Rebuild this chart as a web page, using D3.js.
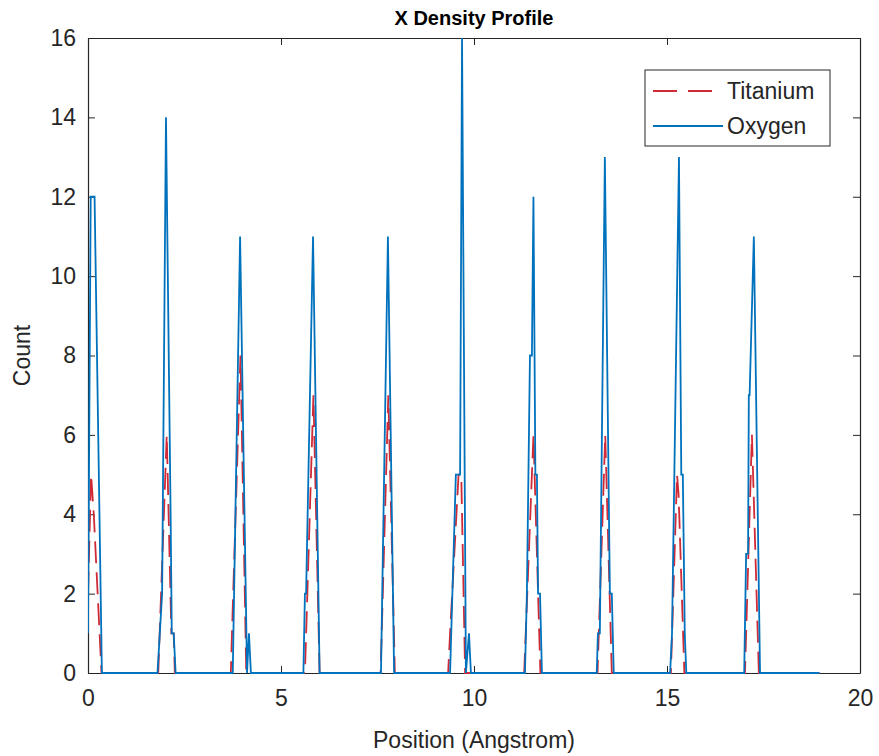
<!DOCTYPE html>
<html lang="en">
<head>
  <meta charset="UTF-8" />
  <title>X Density Profile</title>
  <style>
    html, body { margin: 0; padding: 0; background: #fff; }
    svg { display: block; font-family: "Liberation Sans", Arial, sans-serif; }
    .tick text { fill: #262626; font-size: 23px; }
    .tick line, .domain { stroke: #262626; }
  </style>
  <script src="https://d3js.org/d3.v7.min.js"></script>
</head>
<body>
  <svg id="chart" width="879" height="756"></svg>
  <script>
    // values: [position (Angstrom), count]
    const titanium = [
      [0, 2], [0.08, 5], [0.15, 4], [0.35, 0],
      [1.82, 0], [2.04, 6], [2.16, 1], [2.22, 1], [2.25, 0],
      [3.7, 0], [3.73, 1], [3.95, 8], [4.1, 0],
      [5.62, 0], [5.84, 7], [6.0, 0],
      [7.58, 0], [7.78, 7], [7.95, 0],
      [9.33, 0], [9.38, 1], [9.6, 5], [9.67, 5], [9.77, 0],
      [11.3, 0], [11.54, 6], [11.72, 0],
      [13.2, 0], [13.4, 6], [13.57, 0],
      [15.1, 0], [15.26, 5], [15.3, 4.5], [15.45, 0],
      [17.02, 0], [17.2, 6], [17.38, 0],
      [18.95, 0]
    ];
    const oxygen = [
      [0, 1], [0.07, 12], [0.17, 12], [0.36, 0],
      [1.8, 0], [1.92, 2], [2.02, 14], [2.14, 4], [2.17, 1], [2.22, 1], [2.27, 0],
      [3.75, 0], [3.94, 11], [4.12, 0], [4.17, 1], [4.22, 0],
      [5.58, 0], [5.62, 2], [5.65, 2], [5.83, 11], [6.0, 0],
      [7.59, 0], [7.77, 11], [7.93, 0],
      [9.38, 0], [9.53, 5], [9.64, 5], [9.69, 16], [9.79, 0], [9.87, 1], [9.92, 0],
      [11.32, 0], [11.37, 2], [11.45, 8], [11.5, 8], [11.54, 12], [11.59, 5],
      [11.63, 5], [11.66, 2], [11.71, 2], [11.76, 0],
      [13.18, 0], [13.21, 1], [13.26, 1], [13.39, 13], [13.52, 2], [13.57, 2], [13.62, 0],
      [15.08, 0], [15.13, 1], [15.31, 13], [15.37, 5], [15.41, 5], [15.46, 1], [15.5, 0],
      [17.0, 0], [17.05, 3], [17.1, 3], [17.12, 7], [17.14, 7], [17.25, 11], [17.41, 0],
      [18.95, 0]
    ];
    const xTicks = [0, 5, 10, 15, 20];
    const yTicks = [0, 2, 4, 6, 8, 10, 12, 14, 16];

    const svg = d3.select("#chart");
    const pLeft = 88, pRight = 860, pTop = 38, pBottom = 673;
    const ink = "#262626";
    const tiColor = "#cf2a36", oColor = "#0072BD";

    const x = d3.scaleLinear().domain([0, 20]).range([pLeft, pRight]);
    const y = d3.scaleLinear().domain([0, 16]).range([pBottom, pTop]);

    // box axes with inward ticks on all sides
    svg.append("g")
      .attr("transform", `translate(0,${pBottom})`)
      .call(d3.axisBottom(x).tickValues(xTicks).tickSizeInner(-7).tickSizeOuter(0).tickPadding(17));
    svg.append("g")
      .attr("transform", `translate(0,${pTop})`)
      .call(d3.axisTop(x).tickValues(xTicks).tickSizeInner(-7).tickSizeOuter(0).tickFormat(""));
    svg.append("g")
      .attr("transform", `translate(${pLeft},0)`)
      .call(d3.axisLeft(y).tickValues(yTicks).tickSizeInner(-7).tickSizeOuter(0).tickPadding(12));
    svg.append("g")
      .attr("transform", `translate(${pRight},0)`)
      .call(d3.axisRight(y).tickValues(yTicks).tickSizeInner(-7).tickSizeOuter(0).tickFormat(""));
    svg.selectAll(".domain").attr("stroke-width", 1.2);

    svg.append("defs").append("clipPath").attr("id", "clip")
      .append("rect").attr("x", pLeft).attr("y", pTop - 1).attr("width", pRight - pLeft).attr("height", pBottom - pTop + 3);

    const line = d3.line().x(d => x(d[0])).y(d => y(d[1]));
    const plot = svg.append("g").attr("clip-path", "url(#clip)");

    plot.append("path")
      .datum(titanium)
      .attr("d", line)
      .attr("fill", "none")
      .attr("stroke", tiColor)
      .attr("stroke-width", 1.8)
      .attr("stroke-dasharray", "22,9");

    plot.append("path")
      .datum(oxygen)
      .attr("d", line)
      .attr("fill", "none")
      .attr("stroke", oColor)
      .attr("stroke-width", 1.8);

    // title and labels
    svg.append("text")
      .attr("x", (pLeft + pRight) / 2).attr("y", 25)
      .attr("text-anchor", "middle")
      .attr("font-size", 20).attr("font-weight", "bold").attr("fill", "#000")
      .text("X Density Profile");

    svg.append("text")
      .attr("x", (pLeft + pRight) / 2).attr("y", 748)
      .attr("text-anchor", "middle")
      .attr("font-size", 23).attr("fill", ink)
      .text("Position (Angstrom)");

    svg.append("text")
      .attr("transform", `translate(30,${(pTop + pBottom) / 2}) rotate(-90)`)
      .attr("text-anchor", "middle")
      .attr("font-size", 23).attr("fill", ink)
      .text("Count");

    // legend
    const legend = svg.append("g");
    legend.append("rect")
      .attr("x", 645).attr("y", 70).attr("width", 185).attr("height", 76)
      .attr("fill", "#fff").attr("stroke", ink).attr("stroke-width", 1);

    const entries = [
      { name: "Titanium", color: tiColor, dash: "24,11", x2: 712, y: 91 },
      { name: "Oxygen", color: oColor, dash: null, x2: 723, y: 126 }
    ];
    entries.forEach(e => {
      legend.append("line")
        .attr("x1", 653).attr("x2", e.x2).attr("y1", e.y).attr("y2", e.y)
        .attr("stroke", e.color).attr("stroke-width", 1.8)
        .attr("stroke-dasharray", e.dash);
      legend.append("text")
        .attr("x", 727).attr("y", e.y + 8)
        .attr("font-size", 23).attr("fill", ink)
        .text(e.name);
    });
  </script>
</body>
</html>
